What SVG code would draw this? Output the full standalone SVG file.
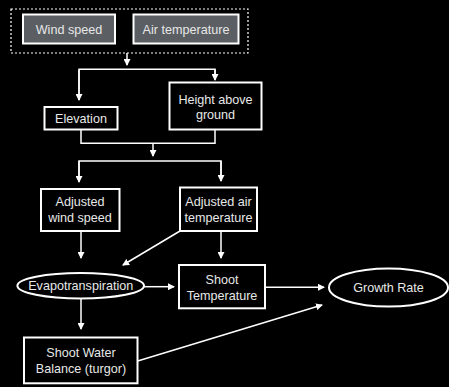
<svg xmlns="http://www.w3.org/2000/svg" width="449" height="387" viewBox="0 0 449 387">
<defs>
<marker id="ah" markerWidth="7" markerHeight="7" refX="6" refY="3.5" orient="auto" markerUnits="userSpaceOnUse">
<path d="M0,0 L7,3.5 L0,7 Z" fill="#ffffff"/>
</marker>
<style>
.box{fill:#000;stroke:#fff;stroke-width:2}
.gbox{fill:#5b5e63;stroke:#fff;stroke-width:2}
.t{font-family:"Liberation Sans",Arial,sans-serif;font-size:12.6px;fill:#e8e8e8;text-anchor:middle}
.c{fill:none;stroke:#fff;stroke-width:1.5}
.ca{fill:none;stroke:#fff;stroke-width:1.5;marker-end:url(#ah)}
</style>
</defs>
<rect width="449" height="387" fill="#000"/>
<g id="inputs">
<rect x="11" y="9" width="237" height="44" fill="none" stroke="#fff" stroke-width="1.2" stroke-dasharray="2,2"/>
</g>
<g id="wind-speed">
<rect class="gbox" x="23" y="14.5" width="92" height="29"/>
<text class="t" x="69" y="33.5">Wind speed</text>
</g>
<g id="air-temperature">
<rect class="gbox" x="133.5" y="14.5" width="105" height="29"/>
<text class="t" x="186" y="33.5">Air temperature</text>
</g>
<g id="elevation">
<rect class="box" x="44.5" y="107" width="73" height="22.5"/>
<text class="t" x="81" y="122.5">Elevation</text>
</g>
<g id="height-above-ground">
<rect class="box" x="169.5" y="82.5" width="92" height="47"/>
<text class="t" x="215.5" y="103.5">Height above</text>
<text class="t" x="215.5" y="119">ground</text>
</g>
<g id="adjusted-wind-speed">
<rect class="box" x="41" y="189" width="78.5" height="42"/>
<text class="t" x="80" y="206">Adjusted</text>
<text class="t" x="80" y="221.5">wind speed</text>
</g>
<g id="adjusted-air-temperature">
<rect class="box" x="180" y="187.5" width="77" height="43.5"/>
<text class="t" x="218.5" y="206">Adjusted air</text>
<text class="t" x="218.5" y="221.5">temperature</text>
</g>
<g id="evapotranspiration">
<ellipse cx="80.7" cy="285.7" rx="63.3" ry="12.7" fill="#000" stroke="#fff" stroke-width="2"/>
<text class="t" x="80.7" y="290">Evapotranspiration</text>
</g>
<g id="shoot-temperature">
<rect class="box" x="179" y="265" width="86" height="43.3"/>
<text class="t" x="222" y="284">Shoot</text>
<text class="t" x="222" y="299.5">Temperature</text>
</g>
<g id="growth-rate">
<ellipse cx="388.5" cy="287.5" rx="59.5" ry="19" fill="#000" stroke="#fff" stroke-width="2"/>
<text class="t" x="388.5" y="292">Growth Rate</text>
</g>
<g id="shoot-water-balance">
<rect class="box" x="24" y="337.5" width="113.5" height="45.8"/>
<text class="t" x="81" y="356.5">Shoot Water</text>
<text class="t" x="81" y="373">Balance (turgor)</text>
</g>
<g id="connectors">
<path class="ca" d="M127,53 V65"/>
<path class="c" d="M79,100 V69.3 H215 V79"/>
<path class="ca" d="M79,70 V100"/>
<path class="ca" d="M215,69.3 V80"/>
<path class="c" d="M81,129.5 V143.3 H215 V129.5"/>
<path class="ca" d="M153,143.3 V156"/>
<path class="c" d="M79,181 V161 H221 V181"/>
<path class="ca" d="M79,161 V182"/>
<path class="ca" d="M221,161 V181"/>
<path class="ca" d="M81,231 V258"/>
<path class="ca" d="M221,231 V258"/>
<path class="ca" d="M180,231 L123,265"/>
<path class="ca" d="M144,286.7 H174"/>
<path class="ca" d="M265,287.3 H324"/>
<path class="ca" d="M81,298.5 V329"/>
<path class="ca" d="M137.7,361 L322,305"/>
</g>
</svg>
